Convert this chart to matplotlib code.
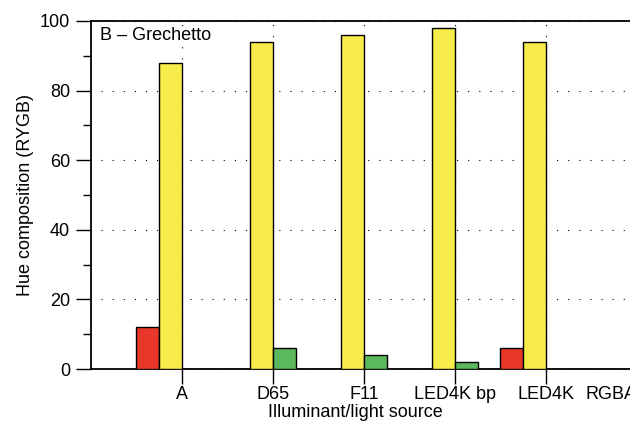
import matplotlib
matplotlib.use("Agg")
import matplotlib.pyplot as plt
import matplotlib.transforms as mtransforms
import numpy as np

plt.rcParams["font.family"] = ["Liberation Sans", "DejaVu Sans"]
plt.rcParams["font.size"] = 13

# ── Hue composition per illuminant (R, Y, G, B) ──────────────────────────────
illuminants = ["A", "D65", "F11", "LED4K bp", "LED4K", "RGBA"]
red    = [12, 0, 0, 0, 6, 0]
yellow = [88, 94, 96, 98, 94, 0]
green  = [0, 6, 4, 2, 0, 0]
blue   = [0, 0, 0, 0, 0, 0]

series = [red, yellow, green, blue]
colors = ["#E8382A", "#F7EC4A", "#5CB85C", "#3A6FC4"]

fig = plt.figure(figsize=(6.3, 4.25), dpi=100)
# axes run past the right edge of the figure
ax = fig.add_axes([91 / 630, 56 / 425, 637 / 630, 348 / 425])

x = np.arange(len(illuminants))
w = 0.25
for k, (vals, c) in enumerate(zip(series, colors)):
    ax.bar(x + (k - 1.5) * w, vals, width=w, color=c, edgecolor="black",
           linewidth=1.0, zorder=3)

ax.set_xlim(-1, 6)
ax.set_ylim(0, 100)

ax.set_yticks([0, 20, 40, 60, 80, 100])
ax.set_yticks([10, 30, 50, 70, 90], minor=True)
ax.set_xticks(x)
ax.set_xticklabels(illuminants)

# last label sits against the figure edge
last = ax.get_xticklabels()[-1]
last.set_horizontalalignment("right")
last.set_transform(last.get_transform() +
                   mtransforms.ScaledTranslation(-11 / 100, 0, fig.dpi_scale_trans))

ax.tick_params(axis="both", which="major", direction="out", length=11,
               width=1.0, labelsize=13)
ax.tick_params(axis="x", which="major", pad=1)
ax.tick_params(axis="y", which="major", pad=4)
ax.tick_params(axis="y", which="minor", direction="out", length=6, width=1.0)

for s in ["left", "bottom", "top", "right"]:
    ax.spines[s].set_linewidth(1.3)

ax.grid(True, which="major", color="black", linestyle=(11, (1, 9)),
        linewidth=0.8, zorder=0)
ax.set_axisbelow(True)

ax.set_ylabel("Hue composition (RYGB)", fontsize=13)
ax.yaxis.set_label_coords(-0.090, 0.5)

fig.text(268 / 630, 8 / 425, "Illuminant/light source", fontsize=13,
         ha="left", va="baseline")
fig.text(100 / 630, (425 - 40) / 425, "B \u2013 Grechetto", fontsize=13,
         ha="left", va="baseline")

fig.savefig("out.png", dpi=100)
